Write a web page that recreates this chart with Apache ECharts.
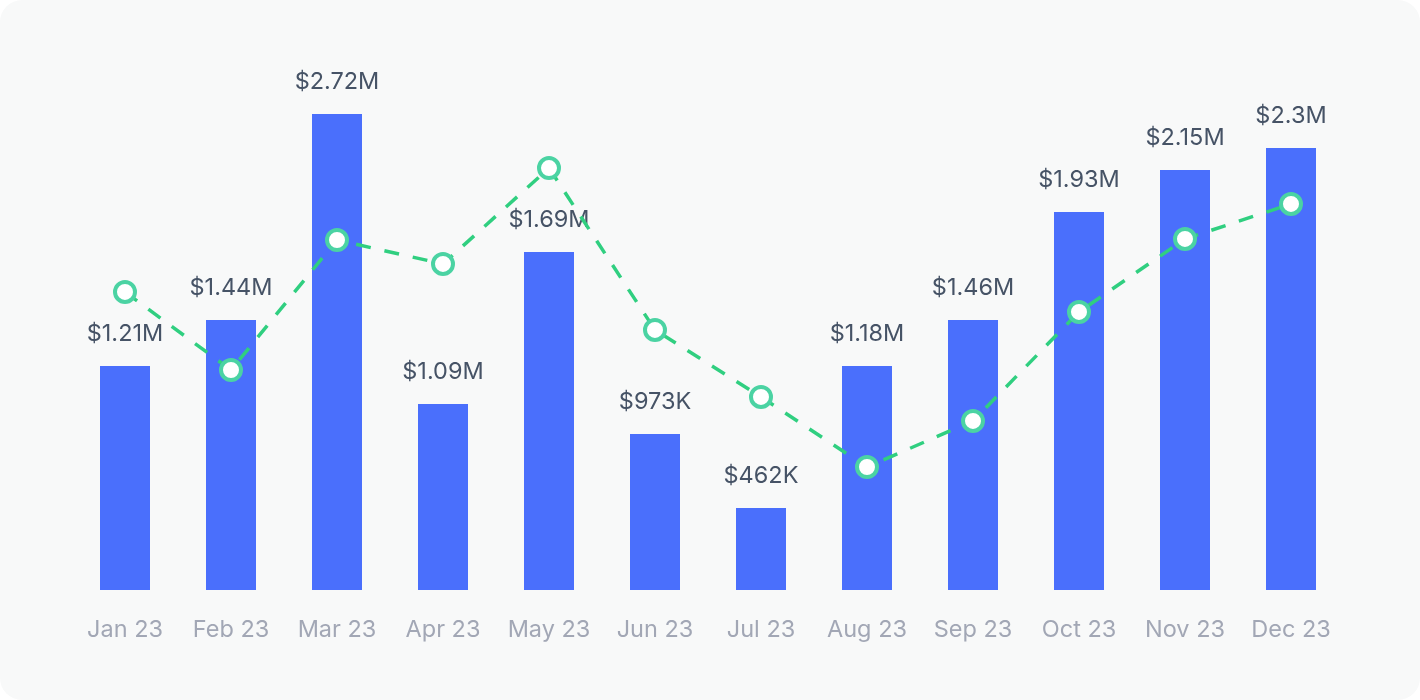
<!DOCTYPE html>
<html>
<head>
<meta charset="utf-8">
<script src="https://cdn.jsdelivr.net/npm/echarts@6/dist/echarts.min.js"></script>
<style>
  html, body { margin: 0; padding: 0; background: #ffffff; }
  #card { position: absolute; left: 0; top: 0; width: 1420px; height: 700px; background: #f8f9f9; border-radius: 22px; overflow: hidden; }
  #chart { width: 1420px; height: 700px; }
</style>
</head>
<body>
<div id="card"><div id="chart"></div></div>
<script>
const categories = ['Jan 23', 'Feb 23', 'Mar 23', 'Apr 23', 'May 23', 'Jun 23', 'Jul 23', 'Aug 23', 'Sep 23', 'Oct 23', 'Nov 23', 'Dec 23'];
// bar heights (estimated, $K)
const barValues = [1280, 1543, 2720, 1063, 1931, 891, 469, 1280, 1543, 2160, 2400, 2526];
// labels shown above bars
const barLabels = ['$1.21M', '$1.44M', '$2.72M', '$1.09M', '$1.69M', '$973K', '$462K', '$1.18M', '$1.46M', '$1.93M', '$2.15M', '$2.3M'];
// dashed trend line (estimated, same scale)
const trendValues = [1703, 1257, 2000, 1863, 2411, 1486, 1103, 703, 966, 1589, 2006, 2206];

const chart = echarts.init(document.getElementById('chart'));
chart.setOption({
  backgroundColor: 'transparent',
  animation: false,
  grid: { left: 72, right: 76, top: 90, bottom: 110 },
  xAxis: {
    type: 'category',
    data: categories,
    axisLine: { show: false },
    axisTick: { show: false },
    axisLabel: { color: '#a2a7b5', fontSize: 23.5, fontFamily: 'Inter', margin: 28, interval: 0 }
  },
  yAxis: {
    type: 'value',
    min: 0,
    max: 2857,
    show: false,
    splitLine: { show: false }
  },
  series: [
    {
      type: 'bar',
      data: barValues,
      barWidth: 50,
      itemStyle: { color: '#4a6ffc' },
      label: {
        show: true,
        position: 'top',
        distance: 20,
        color: '#465366',
        fontSize: 23.5,
        fontFamily: 'Inter',
        formatter: p => barLabels[p.dataIndex]
      },
      z: 2
    },
    {
      type: 'line',
      data: trendValues,
      symbol: 'circle',
      symbolSize: 20,
      lineStyle: { color: '#30cf80', width: 3.5, type: [15, 14] },
      itemStyle: { color: '#ffffff', borderColor: '#4bd3a3', borderWidth: 4 },
      z: 3
    }
  ]
});
</script>
</body>
</html>
